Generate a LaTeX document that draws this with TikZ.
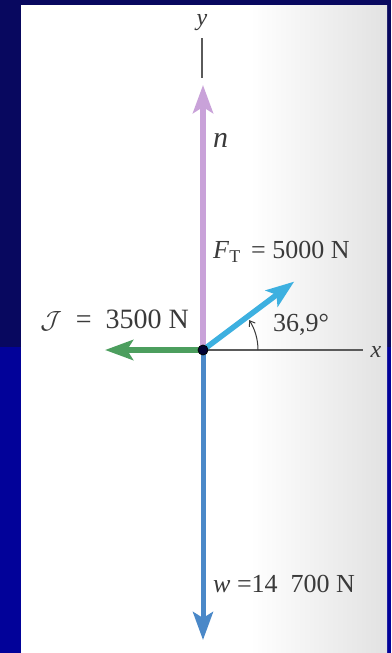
\documentclass[tikz,border=0pt]{standalone}
\usepackage{fontspec}
\setmainfont{Liberation Serif}
\usetikzlibrary{arrows.meta}
\definecolor{navy}{HTML}{08085F}
\definecolor{bgblue}{HTML}{020299}
\definecolor{panelgray}{HTML}{E2E2E2}
\definecolor{npurple}{HTML}{C9A2D9}
\definecolor{ftcyan}{HTML}{3DB0E0}
\definecolor{jgreen}{HTML}{4C9E5E}
\definecolor{wblue}{HTML}{4A88C8}
\definecolor{axisgray}{HTML}{5A5A5A}
\definecolor{txt}{HTML}{3A3A3A}
\tikzset{
  force/.style={line width=5.5pt, -{Stealth[length=28pt,width=20pt,inset=6pt]}},
  axisline/.style={axisgray, line width=1.1pt},
  lbl/.style={text=txt, font=\fontsize{26}{28}\selectfont, inner sep=0pt},
  axlbl/.style={text=txt, font=\fontsize{24}{26}\selectfont\itshape, inner sep=0pt}
}
\begin{document}
\begin{tikzpicture}[x=1pt,y=-1pt]
\useasboundingbox (0,0) rectangle (391,653);
% background
\fill[navy] (0,0) rectangle (391,347);
\fill[bgblue] (0,347) rectangle (391,653);
\fill[white] (21,5) rectangle (250,653);
\shade[left color=white, right color=panelgray] (250,5) rectangle (387,653);
% points
\coordinate (O) at (203,350);
\coordinate (ya) at (202,38);
\coordinate (yb) at (202,78);
\coordinate (xe) at (363,350);
\coordinate (ntip) at (203,85);
\coordinate (jtip) at (105,350);
\coordinate (wtip) at (203,640);
\path (O) ++(0.8*114,-0.6*114) coordinate (ftip);
% axes
\draw[axisline] (ya) -- (yb);
\draw[axisline] (O) -- (xe);
\node[axlbl] (ylab) at (202,23) {y};
\node[axlbl] (xlab) at (376,352) {x};
% forces
\draw[force, npurple] (O) -- (ntip);
\draw[force, jgreen] (O) -- (jtip);
\draw[force, wblue, line width=5pt] (O) -- (wtip);
\draw[force, ftcyan] (O) -- (ftip);
\fill[black!80!blue] (O) circle (5pt);
\draw[black, line width=0.8pt] (O) circle (5pt);
% angle
\draw[txt, line width=1pt, -{Straight Barb[length=5pt,width=7pt]}] (O) ++(55,0) arc[start angle=0, end angle=-33, radius=55];
% labels
\node[lbl, anchor=west, font=\fontsize{30}{32}\selectfont] (nlab) at (213,140) {\itshape n};
\node[lbl, anchor=west] (flab) at (213,252) {\textit{F}\raisebox{-0.35ex}{\fontsize{18}{20}\selectfont T}\, = 5000 N};
\node[lbl, anchor=east] (jlab) at (189,320) {\fontsize{28}{30}\selectfont$\mathcal{J}$\ \ =\ \ 3500 N};
\node[lbl, anchor=west] (alab) at (273,325) {36,9°};
\node[lbl, anchor=west] (wlab) at (213,584) {\textit{w} =14\ \ 700 N};
\end{tikzpicture}
\end{document}
